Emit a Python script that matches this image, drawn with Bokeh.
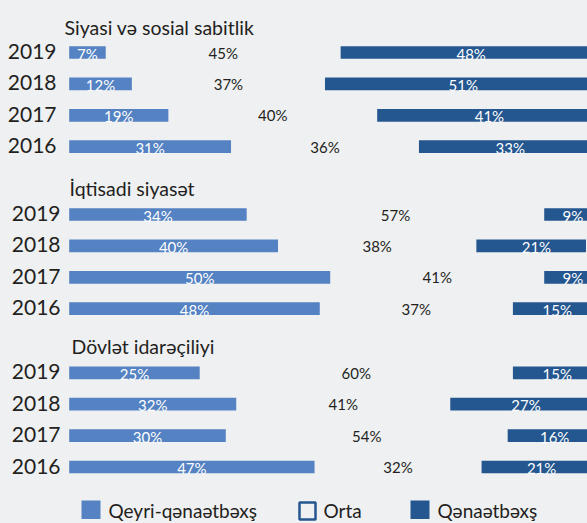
from bokeh.plotting import figure
from bokeh.models import Range1d, ColumnDataSource
from bokeh.core.properties import value
from bokeh.embed import file_html
from bokeh.resources import INLINE

# ---------------- data ----------------
years = ["2019", "2018", "2017", "2016"]
panel_titles = ["Siyasi və sosial sabitlik", "İqtisadi siyasət", "Dövlət idarəçiliyi"]
series_names = ["Qeyri-qənaətbəxş", "Orta", "Qənaətbəxş"]

siyasi_qeyri = [7, 12, 19, 31]
siyasi_orta = [45, 37, 40, 36]
siyasi_qen = [48, 51, 41, 33]

iqtisadi_qeyri = [34, 40, 50, 48]
iqtisadi_orta = [57, 38, 41, 37]
iqtisadi_qen = [9, 21, 9, 15]

dovlet_qeyri = [25, 32, 30, 47]
dovlet_orta = [60, 41, 54, 32]
dovlet_qen = [15, 27, 16, 21]

panels = [
    (siyasi_qeyri, siyasi_orta, siyasi_qen),
    (iqtisadi_qeyri, iqtisadi_orta, iqtisadi_qen),
    (dovlet_qeyri, dovlet_orta, dovlet_qen),
]

# ---------------- layout / style ----------------
BG = "#EFF0F2"
LIGHT = "#5482C2"
DARK = "#24568F"
TXT = "#231F20"
FONT = "Lato"

W, H = 587, 523
OFF = 0            # page offset of the figure
X0 = 68.7 - OFF    # figure pixel of 0 %
PX = 5.22          # pixels per %

def sx(px):        # screen x -> data x
    return (px - OFF - X0) / PX

def sy(py):        # screen y -> data y
    return py - OFF

first_row = [52.0, 214.0, 372.3]
row_step = 31.4
bar_h = 12.7
title_pos = [(64, 27), (69, 187.5), (71, 346)]
year_right = [56, 60, 60]

p = figure(width=W, height=H, output_backend="svg", toolbar_location=None,
           x_range=Range1d(-X0 / PX, (W - X0) / PX),
           y_range=Range1d(H, 0),
           min_border=0, background_fill_color=BG, border_fill_color=BG,
           outline_line_color=None)
p.axis.visible = False
p.grid.visible = False

for k, (qeyri, orta, qen) in enumerate(panels):
    ys = [sy(first_row[k] + i * row_step) for i in range(len(years))]
    left2 = [a + b for a, b in zip(qeyri, orta)]
    right3 = [a + b + c for a, b, c in zip(qeyri, orta, qen)]
    src = ColumnDataSource(dict(
        y=ys, qeyri=qeyri, orta=orta, qen=qen,
        zero=[0] * len(ys), l2=left2, r3=right3,
        c1=[v / 2 for v in qeyri],
        c2=[a + b / 2 for a, b in zip(qeyri, orta)],
        c3=[a + c / 2 + 1 for a, c in zip(left2, qen)],
        t1=[f"{v}%" for v in qeyri],
        t2=[f"{v}%" for v in orta],
        t3=[f"{v}%" for v in qen],
        ylab=[y + 1 for y in ys],
        yr=[y - 1 for y in ys],
        xr=[sx(year_right[k])] * len(ys),
        years=years,
    ))
    p.hbar(y="y", left="zero", right="qeyri", height=bar_h, source=src,
           fill_color=LIGHT, line_color=None)
    p.hbar(y="y", left="l2", right="r3", height=bar_h, source=src,
           fill_color=DARK, line_color=None)
    p.text(x="c1", y="ylab", text="t1", source=src, text_color="white",
           text_font=value(FONT), text_font_size="15px",
           text_align="center", text_baseline="middle")
    p.text(x="c2", y="y", text="t2", source=src, text_color=TXT,
           text_font=value(FONT), text_font_size="15px",
           text_align="center", text_baseline="middle")
    p.text(x="c3", y="ylab", text="t3", source=src, text_color="white",
           text_font=value(FONT), text_font_size="15px",
           text_align="center", text_baseline="middle")
    p.text(x="xr", y="yr", text="years", source=src,
           text_color=TXT, text_font=value(FONT), text_font_size="21px",
           text_align="right", text_baseline="middle")
    tx, ty = title_pos[k]
    p.text(x=[sx(tx)], y=[sy(ty)], text=[panel_titles[k]], text_color=TXT,
           text_font=value(FONT), text_font_size="19.5px",
           text_align="left", text_baseline="alphabetic")

# ---------------- legend ----------------
leg = [
    (81, 100, LIGHT, None, 108),
    (298, 316, BG, DARK, 323),
    (410, 429, DARK, None, 437),
]
for (l, r, fc, lc, tx), name in zip(leg, series_names):
    if lc is None:
        p.quad(left=[sx(l)], right=[sx(r)], top=[sy(500)], bottom=[sy(518.5)],
               fill_color=fc, line_color=None)
    else:
        p.quad(left=[sx(l + 1)], right=[sx(r - 1)], top=[sy(502)], bottom=[sy(519)],
               fill_color=fc, line_color=lc, line_width=2.5)
    p.text(x=[sx(tx)], y=[sy(510)], text=[name], text_color=TXT,
           text_font=value(FONT), text_font_size="19px",
           text_align="left", text_baseline="middle")

html = file_html(p, INLINE)
html = html.replace("<head>", "<head><style>body{background:%s;}</style>" % BG, 1)
open("out.html", "w").write(html)
